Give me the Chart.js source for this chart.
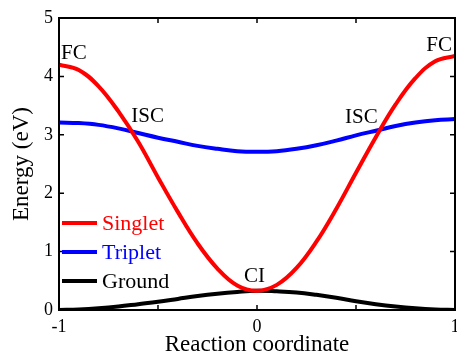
<!DOCTYPE html>
<html lang="en">
<head>
<meta charset="UTF-8">
<title>Energy vs reaction coordinate</title>
<script src="https://cdn.jsdelivr.net/npm/chart.js"></script>
<style>
  html, body { margin: 0; padding: 0; background: #fff; }
  canvas { display: block; }
</style>
</head>
<body>
<canvas id="chart" width="457" height="353"></canvas>
<script>
// values
const coord   = [-1, -0.9, -0.8, -0.7, -0.6, -0.5, -0.4, -0.3, -0.2, -0.1, 0, 0.1, 0.2, 0.3, 0.4, 0.5, 0.6, 0.7, 0.8, 0.9, 1];
const singlet = [4.20, 4.11, 3.83, 3.40, 2.88, 2.27, 1.68, 1.14, 0.71, 0.42, 0.33, 0.43, 0.72, 1.17, 1.73, 2.35, 2.96, 3.52, 3.97, 4.26, 4.35];
const triplet = [3.21, 3.20, 3.17, 3.11, 3.03, 2.95, 2.88, 2.81, 2.76, 2.72, 2.71, 2.72, 2.76, 2.82, 2.90, 2.99, 3.07, 3.15, 3.21, 3.25, 3.27];
const ground  = [0.00, 0.01, 0.03, 0.06, 0.10, 0.14, 0.19, 0.24, 0.28, 0.31, 0.33, 0.32, 0.30, 0.26, 0.21, 0.15, 0.10, 0.06, 0.03, 0.01, 0.00];

const seriesNames  = ['Singlet', 'Triplet', 'Ground'];
const seriesColors = ['#ff0000', '#0000ff', '#000000'];

const xTicks = [-1, 0, 1];
const xMinorTicks = [-0.5, 0.5];
const yTicks = [0, 1, 2, 3, 4, 5];

// point labels (data coordinates)
const markText = ['FC', 'ISC', 'CI', 'ISC', 'FC'];
const markX    = [-1, -0.64, 0, 0.62, 1];
const markY    = [4.2, 3.07, 0.33, 3.1, 4.35];

const serif = "'Liberation Serif', 'Times New Roman', serif";

function toPoints(ys) {
  return coord.map((x, i) => ({ x: x, y: ys[i] }));
}

// frame, inward ticks, point labels and legend
const decor = {
  id: 'decor',
  afterDatasetsDraw(chart) {
    const ctx = chart.ctx;
    const a = chart.chartArea;
    const xs = chart.scales.x, ys = chart.scales.y;
    ctx.save();

    ctx.strokeStyle = '#000';
    ctx.lineWidth = 2;
    ctx.strokeRect(a.left, a.top, a.right - a.left, a.bottom - a.top);

    const tick = 5;
    ctx.lineWidth = 1.5;
    ctx.beginPath();
    xTicks.concat(xMinorTicks).forEach(v => {
      const px = xs.getPixelForValue(v);
      ctx.moveTo(px, a.bottom); ctx.lineTo(px, a.bottom - tick);
      ctx.moveTo(px, a.top); ctx.lineTo(px, a.top + tick);
    });
    yTicks.forEach(v => {
      const py = ys.getPixelForValue(v);
      ctx.moveTo(a.left, py); ctx.lineTo(a.left + tick, py);
      ctx.moveTo(a.right, py); ctx.lineTo(a.right - tick, py);
    });
    ctx.stroke();

    // labels next to the curves
    const place = [
      { align: 'left',   dx: 2,    dy: -6 },
      { align: 'left',   dx: 1,    dy: -9 },
      { align: 'center', dx: -2.5, dy: -9 },
      { align: 'right',  dx: -2,   dy: -6 },
      { align: 'right',  dx: -3,   dy: -5 }
    ];
    ctx.fillStyle = '#000';
    ctx.font = '21px ' + serif;
    ctx.textBaseline = 'alphabetic';
    markText.forEach((t, i) => {
      ctx.textAlign = place[i].align;
      ctx.fillText(t, xs.getPixelForValue(markX[i]) + place[i].dx,
                      ys.getPixelForValue(markY[i]) + place[i].dy);
    });

    // legend, lower left inside the plot
    ctx.font = '22px ' + serif;
    ctx.textAlign = 'left';
    ctx.lineWidth = 4;
    seriesNames.forEach((name, i) => {
      const y = a.top + 205 + i * 29;
      ctx.strokeStyle = seriesColors[i];
      ctx.beginPath();
      ctx.moveTo(a.left + 3, y);
      ctx.lineTo(a.left + 38, y);
      ctx.stroke();
      ctx.fillStyle = seriesColors[i];
      ctx.fillText(name, a.left + 43, y + 7);
    });

    ctx.restore();
  }
};

new Chart(document.getElementById('chart'), {
  type: 'line',
  data: {
    datasets: [singlet, triplet, ground].map((ys, i) => ({
      label: seriesNames[i],
      data: toPoints(ys),
      borderColor: seriesColors[i],
      backgroundColor: seriesColors[i],
      borderWidth: 4,
      pointRadius: 0,
      tension: 0.4,
      fill: false
    }))
  },
  options: {
    responsive: false,
    animation: false,
    devicePixelRatio: 1,
    layout: { padding: { top: 18, right: 2, left: 0, bottom: 0 } },
    plugins: { legend: { display: false }, tooltip: { enabled: false } },
    scales: {
      x: {
        type: 'linear',
        min: -1, max: 1,
        afterBuildTicks: s => { s.ticks = xTicks.map(v => ({ value: v })); },
        afterFit: s => { s.height = 43; s.paddingLeft = 0; s.paddingRight = 0; },
        grid: { display: false, drawTicks: false },
        border: { display: false },
        ticks: { color: '#000', padding: 6, maxRotation: 0, font: { family: serif, size: 18 } },
        title: {
          display: true, text: 'Reaction coordinate', color: '#000',
          font: { family: serif, size: 23, lineHeight: 1 },
          padding: { top: 0, bottom: -3 }
        }
      },
      y: {
        min: 0, max: 5,
        afterBuildTicks: s => { s.ticks = yTicks.map(v => ({ value: v })); },
        afterFit: s => { s.width = 59; s.paddingTop = 0; s.paddingBottom = 0; },
        grid: { display: false, drawTicks: false },
        border: { display: false },
        ticks: { color: '#000', padding: 6, font: { family: serif, size: 18 } },
        title: {
          display: true, text: 'Energy (eV)', color: '#000',
          font: { family: serif, size: 23, lineHeight: 1 },
          padding: { top: 10, bottom: 0 }
        }
      }
    }
  },
  plugins: [decor]
});
</script>
</body>
</html>
